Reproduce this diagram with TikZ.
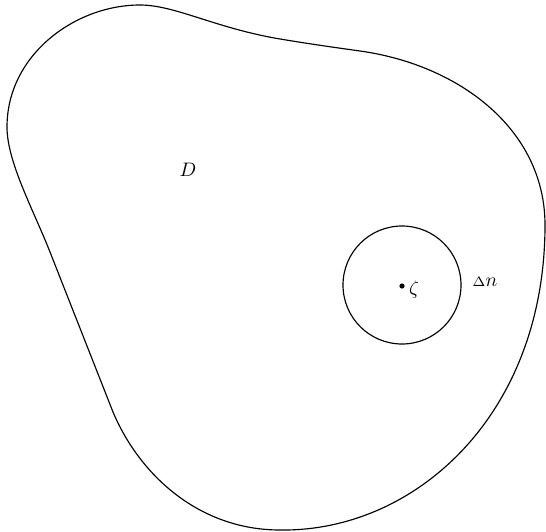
\documentclass[tikz,border=0pt]{standalone}
\usepackage{graphicx}
\newcommand{\bigtxt}[1]{\scalebox{1.95}{#1}}
\begin{document}
\begin{tikzpicture}[x=1pt,y=-1pt,
  curve/.style={line width=1.15pt},
  lbl/.style={inner sep=0pt}]
\useasboundingbox (0,0) rectangle (546,532);
\draw[curve] (7,127) .. controls (7,55) and (75,5) .. (140,5)
  .. controls (175,5) and (215,28) .. (280,39)
  .. controls (310,44) and (335,47.5) .. (360,51)
  .. controls (460,65) and (545,130) .. (545,225)
  .. controls (545,415) and (415,532) .. (280,530)
  .. controls (200,530) and (140,476) .. (113,412)
  -- (50,252)
  .. controls (33.5,210) and (7,162) .. (7,127) -- cycle;
\draw[curve] (402,285) circle[radius=59];
\fill (402,286) circle[radius=2.6];
\node[lbl] (D) at (188,170) {\bigtxt{$D$}};
\node[lbl] (z) at (414,290) {\bigtxt{$\zeta$}};
\node[lbl] (dn) at (485,282) {\bigtxt{${\scriptstyle\Delta}n$}};
\end{tikzpicture}
\end{document}
